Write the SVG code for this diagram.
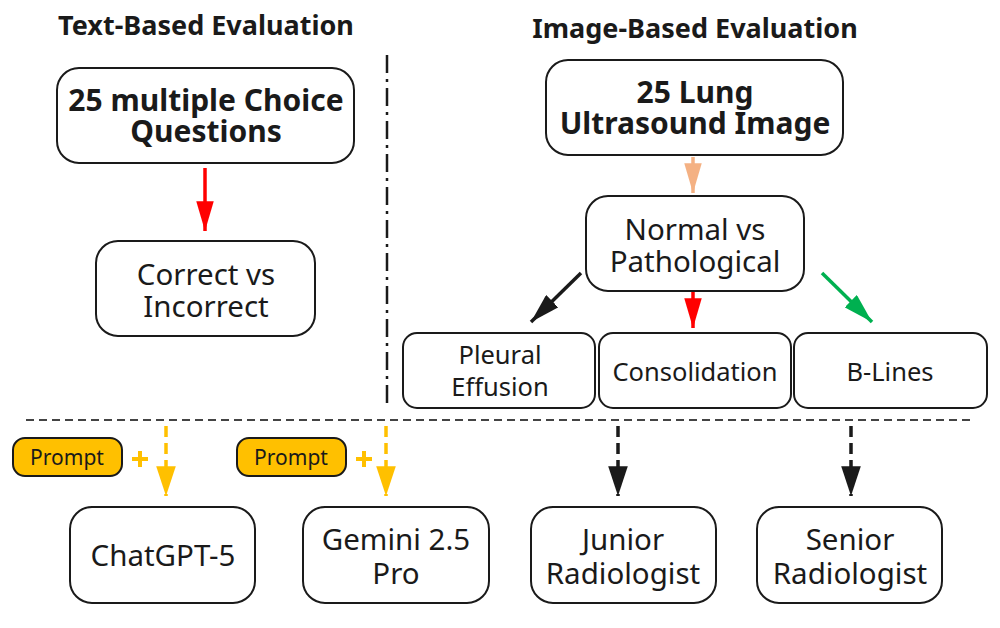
<svg xmlns="http://www.w3.org/2000/svg" width="1000" height="628" viewBox="0 0 1000 628">
<defs>
<style>
text{font-family:"Noto Sans","Open Sans","DejaVu Sans",sans-serif;fill:#1a1a1a;text-anchor:middle}
.title{font-size:27px;font-weight:bold}
.bold{font-size:30px;font-weight:bold}
.reg{font-size:29.5px}
.sm{font-size:25.5px}
.pr{font-size:21px}
.box{fill:#fff;stroke:#1a1a1a;stroke-width:2}
.pill{fill:#FFC000;stroke:#1a1a1a;stroke-width:2}
.plus{stroke:#FFC000;stroke-width:4}
</style>
<marker id="aRed" viewBox="0 0 20 10" refX="20" refY="5" markerWidth="8.5" markerHeight="5" orient="auto" markerUnits="strokeWidth" preserveAspectRatio="none"><path d="M0,0 L20,5 L0,10 z" fill="#FF0000"/></marker>
<marker id="aOr" viewBox="0 0 20 10" refX="20" refY="5" markerWidth="8.5" markerHeight="5" orient="auto" markerUnits="strokeWidth" preserveAspectRatio="none"><path d="M0,0 L20,5 L0,10 z" fill="#F4B183"/></marker>
<marker id="aBlk" viewBox="0 0 20 10" refX="20" refY="5" markerWidth="8.5" markerHeight="5" orient="auto" markerUnits="strokeWidth" preserveAspectRatio="none"><path d="M0,0 L20,5 L0,10 z" fill="#1a1a1a"/></marker>
<marker id="aGr" viewBox="0 0 20 10" refX="20" refY="5" markerWidth="8.5" markerHeight="5" orient="auto" markerUnits="strokeWidth" preserveAspectRatio="none"><path d="M0,0 L20,5 L0,10 z" fill="#00B050"/></marker>
<marker id="aYel" viewBox="0 0 20 10" refX="20" refY="5" markerWidth="8.5" markerHeight="5.6" orient="auto" markerUnits="strokeWidth" preserveAspectRatio="none"><path d="M0,0 L20,5 L0,10 z" fill="#FFC000"/></marker>
<marker id="aBlkD" viewBox="0 0 20 10" refX="20" refY="5" markerWidth="8.5" markerHeight="5.6" orient="auto" markerUnits="strokeWidth" preserveAspectRatio="none"><path d="M0,0 L20,5 L0,10 z" fill="#1a1a1a"/></marker>
</defs>
<rect width="1000" height="628" fill="#fff"/>

<text class="title" x="206" y="35">Text-Based Evaluation</text>
<text class="title" x="695" y="38">Image-Based Evaluation</text>

<g id="connectors">
<line x1="387" y1="55" x2="387" y2="408" stroke="#1a1a1a" stroke-width="2.5" stroke-dasharray="18,6,3,6"/>
<line x1="26" y1="420" x2="973" y2="420" stroke="#444" stroke-width="2" stroke-dasharray="8,5"/>
<line x1="205" y1="168" x2="205" y2="231" stroke="#FF0000" stroke-width="3.5" marker-end="url(#aRed)"/>
<line x1="693" y1="157" x2="693" y2="193" stroke="#F4B183" stroke-width="3.5" marker-end="url(#aOr)"/>
<line x1="581" y1="273" x2="531" y2="322" stroke="#1a1a1a" stroke-width="3.5" marker-end="url(#aBlk)"/>
<line x1="693" y1="292" x2="693" y2="328" stroke="#FF0000" stroke-width="3.5" marker-end="url(#aRed)"/>
<line x1="822" y1="273" x2="872" y2="322" stroke="#00B050" stroke-width="3.5" marker-end="url(#aGr)"/>
<line x1="166" y1="426" x2="166" y2="496" stroke="#FFC000" stroke-width="3.5" stroke-dasharray="11,6" marker-end="url(#aYel)"/>
<line x1="386" y1="426" x2="386" y2="496" stroke="#FFC000" stroke-width="3.5" stroke-dasharray="11,6" marker-end="url(#aYel)"/>
<line x1="618" y1="426" x2="618" y2="496" stroke="#1a1a1a" stroke-width="3.5" stroke-dasharray="11,6" marker-end="url(#aBlkD)"/>
<line x1="851" y1="426" x2="851" y2="496" stroke="#1a1a1a" stroke-width="3.5" stroke-dasharray="11,6" marker-end="url(#aBlkD)"/>
</g>

<g id="mcq"><rect class="box" x="57" y="68" width="297" height="95" rx="22"/>
<text class="bold" x="206" y="111">25 multiple Choice</text><text class="bold" x="206" y="142">Questions</text></g>
<g id="correct"><rect class="box" x="96" y="241" width="219" height="95" rx="22"/>
<text class="reg" x="206" y="285">Correct vs</text><text class="reg" x="206" y="317">Incorrect</text></g>
<g id="lung"><rect class="box" x="546" y="60" width="297" height="95" rx="22"/>
<text class="bold" x="695" y="103">25 Lung</text><text class="bold" x="695" y="134">Ultrasound Image</text></g>
<g id="normal"><rect class="box" x="586" y="196" width="218" height="95" rx="22"/>
<text class="reg" x="695" y="240">Normal vs</text><text class="reg" x="695" y="272">Pathological</text></g>
<g id="pleural"><rect class="box" x="403" y="333" width="192" height="75" rx="14"/>
<text class="sm" x="500" y="364">Pleural</text><text class="sm" x="500" y="396">Effusion</text></g>
<g id="consolidation"><rect class="box" x="599" y="333" width="192" height="75" rx="14"/>
<text class="sm" x="695" y="381">Consolidation</text></g>
<g id="blines"><rect class="box" x="794" y="333" width="193" height="75" rx="14"/>
<text class="sm" x="890" y="381">B-Lines</text></g>

<g id="prompt1"><rect class="pill" x="13" y="438" width="109" height="38" rx="12"/>
<text class="pr" x="67" y="465">Prompt</text></g>
<g id="plus1"><line class="plus" x1="132" y1="459" x2="148" y2="459"/><line class="plus" x1="140" y1="451" x2="140" y2="467"/></g>
<g id="prompt2"><rect class="pill" x="237" y="438" width="109" height="38" rx="12"/>
<text class="pr" x="291" y="465">Prompt</text></g>
<g id="plus2"><line class="plus" x1="356" y1="459" x2="372" y2="459"/><line class="plus" x1="364" y1="451" x2="364" y2="467"/></g>

<g id="chatgpt"><rect class="box" x="70" y="507" width="185" height="96" rx="22"/>
<text class="reg" x="163" y="566">ChatGPT-5</text></g>
<g id="gemini"><rect class="box" x="303" y="507" width="186" height="96" rx="22"/>
<text class="reg" x="396" y="550">Gemini 2.5</text><text class="reg" x="396" y="584">Pro</text></g>
<g id="junior"><rect class="box" x="531" y="507" width="185" height="96" rx="22"/>
<text class="reg" x="623" y="550">Junior</text><text class="reg" x="623" y="584">Radiologist</text></g>
<g id="senior"><rect class="box" x="757" y="507" width="185" height="96" rx="22"/>
<text class="reg" x="850" y="550">Senior</text><text class="reg" x="850" y="584">Radiologist</text></g>
</svg>
